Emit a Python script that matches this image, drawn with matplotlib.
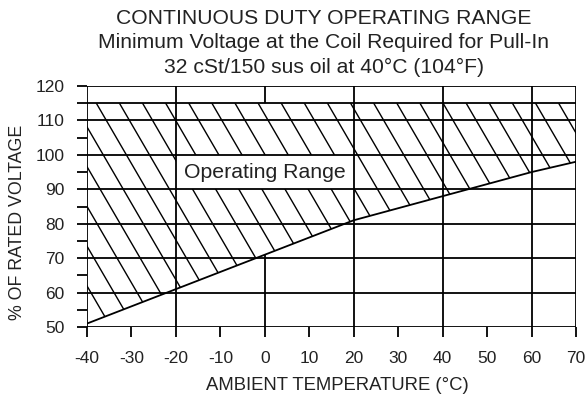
import matplotlib
matplotlib.use("Agg")
import matplotlib.pyplot as plt
import numpy as np
from matplotlib.patches import Polygon, Rectangle

plt.rcParams['font.family'] = ['Liberation Sans', 'DejaVu Sans']

# minimum pull-in voltage vs ambient temperature
temps = [-40, -20, 0, 20, 40, 60, 70]
volts = [51, 61, 71, 81, 88, 95, 98]
v_max = 115

x_ticks = [-40, -30, -20, -10, 0, 10, 20, 30, 40, 50, 60, 70]
x_grid = [-40, -20, 0, 20, 40, 60, 70]
y_ticks = [50, 60, 70, 80, 90, 100, 110, 120]
y_minor = [55, 65, 75, 85, 95, 105, 115]

title_lines = ["CONTINUOUS DUTY OPERATING RANGE",
               "Minimum Voltage at the Coil Required for Pull-In",
               "32 cSt/150 sus oil at 40\u00b0C (104\u00b0F)"]

fig = plt.figure(figsize=(5.86, 4.0), dpi=100)
ax = fig.add_axes([87/586, 1-327/400, (576-87)/586, (327-86)/400])
ax.set_xlim(-40, 70)
ax.set_ylim(50, 120)

txt = '#222222'
lw = 1.3

# grid
for x in x_grid:
    ax.axvline(x, color='black', lw=lw, zorder=1 if x == 0 else 4)
for y in y_ticks:
    ax.axhline(y, color='black', lw=lw, zorder=4)
ax.axhline(v_max, color='black', lw=lw, zorder=4)

# operating region, hatched by hand (steep backslash lines)
verts = list(zip(temps, volts)) + [(temps[-1], v_max), (temps[0], v_max)]
region = Polygon(verts, closed=True, facecolor='white', edgecolor='none', zorder=1.5)
ax.add_patch(region)
spacing = 5.2
slope = 2.22
start = -37.9
for k in range(-6, 22):
    t0 = start + k * spacing
    tt = np.array([t0 - 5, t0 + 40])
    vv = v_max - slope * (tt - t0)
    ln, = ax.plot(tt, vv, color='black', lw=1.0, zorder=2)
    ln.set_clip_path(region)

ax.plot(temps, volts, color='black', lw=lw, zorder=5)

# label box
ax.add_patch(Rectangle((-20, 90), 40, 10, facecolor='white', edgecolor='none', zorder=3))
ax.text(0, 94.8, "Operating Range", ha='center', va='center', fontsize=15.3, color=txt, zorder=6)

for s in ax.spines.values():
    s.set_visible(False)

ax.set_xticks(x_ticks)
ax.set_xticklabels([str(t) for t in x_ticks])
ax.set_yticks(y_ticks)
ax.set_yticks(y_minor, minor=True)
ax.tick_params(axis='both', which='both', direction='out', length=7.5, width=lw, color='black',
               labelsize=12.5, labelcolor=txt)
ax.tick_params(axis='x', pad=9.5)
ax.tick_params(axis='y', pad=8.5)

ax.set_xlabel("AMBIENT TEMPERATURE (\u00b0C)", fontsize=13.3, color=txt)
ax.xaxis.set_label_coords((337-87)/489, -(386-327)/241)
ax.xaxis.label.set_va('center')
ax.set_ylabel("% OF RATED VOLTAGE", fontsize=12.8, color=txt)
ax.yaxis.set_label_coords((18-87)/489, 1-(222-86)/241)
ax.yaxis.label.set_va('center')

for i, line in enumerate(title_lines):
    fig.text(324/586, 1 - (18.5 + 24.3 * i)/400, line, ha='center', va='center', fontsize=15.2, color=txt)

fig.savefig("out.png", dpi=100)
